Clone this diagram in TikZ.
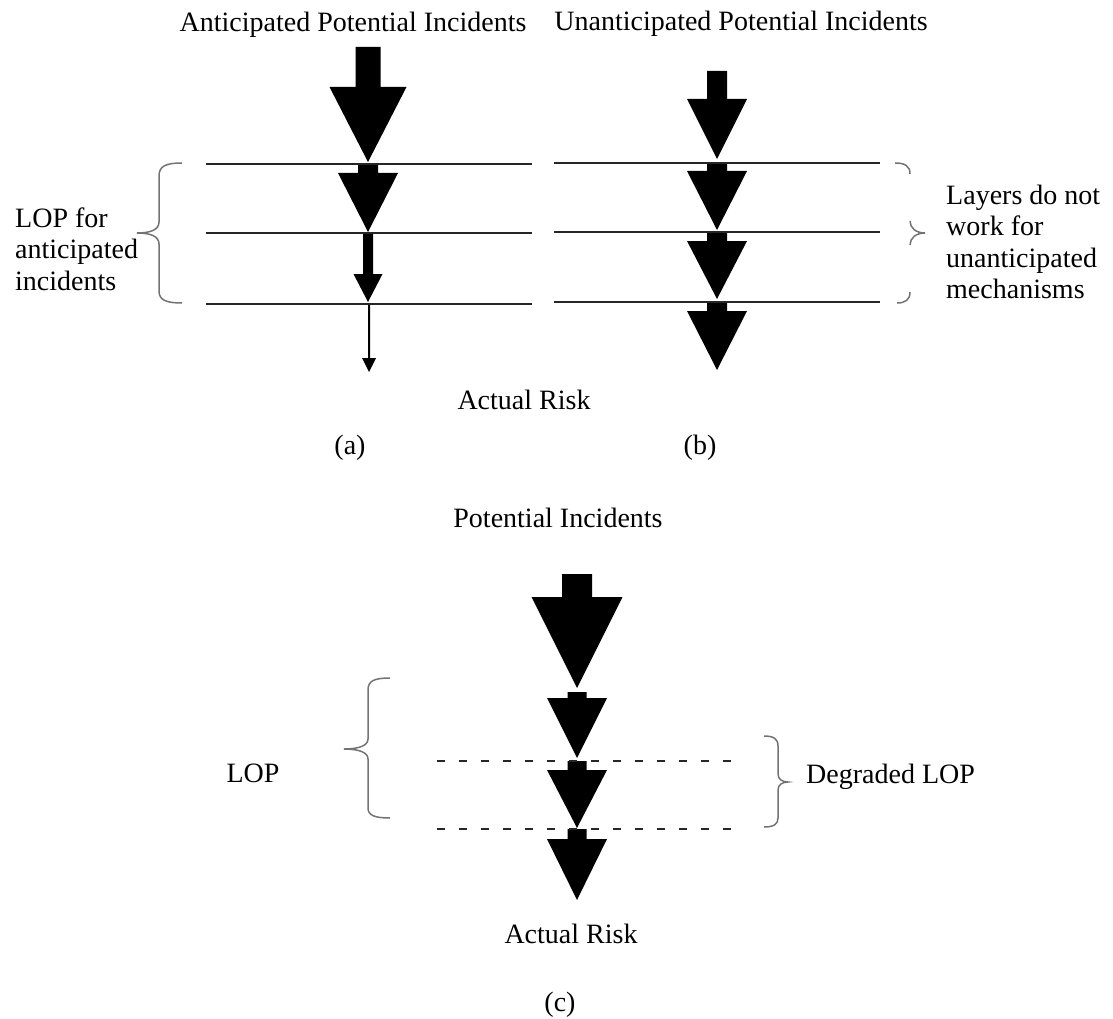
\documentclass[tikz,border=0pt]{standalone}
\usepackage{fontspec}
\setmainfont{Liberation Serif}
\tikzset{
    textnode/.style = {draw=none, fill=none, rectangle, inner sep=0pt, align=center,
      font=\fontsize{28}{31.5}\selectfont},
    sidenode/.style = {textnode, align=left, anchor=west},
    layerline/.style = {draw=black!85, line width=2.3pt},
    dashline/.style = {draw=black!85, line width=2.3pt, dash pattern=on 8pt off 14pt},
    bracket/.style = {draw=black!55, line width=1.5pt}
}
% block arrow: centre x, shaft top, head top, tip, half shaft, half head
\newcommand{\blockarrow}[6]{%
    \fill ({#1-#5},#2) -- ({#1+#5},#2) -- ({#1+#5},#3) -- ({#1+#6},#3) -- (#1,#4)
        -- ({#1-#6},#3) -- ({#1-#5},#3) -- cycle;}

\begin{document}
\begin{tikzpicture}[x=1pt, y=-1pt]
    \useasboundingbox (0,0) rectangle (1113,1019);

    % (a) anticipated
    \node [textnode, name=TitleA] at (353,25) {Anticipated Potential Incidents};
    \blockarrow{368}{47}{87}{162}{12.5}{38.5}
    \blockarrow{368}{164}{173}{232}{10}{30}
    \blockarrow{368}{233}{274}{302}{5}{14.5}
    \blockarrow{369}{304}{358}{372}{1}{7}
    \foreach \y in {164,233,304}
        \draw [layerline] (206,\y) -- (532,\y);
    \draw [bracket] (182,163) .. controls (166,163) and (159,166) .. (159,176) -- (159,222)
        .. controls (159,230) and (150,233) .. (137,233) .. controls (150,233) and (159,236) .. (159,244)
        -- (159,291) .. controls (159,300) and (166,303) .. (182,303);
    \node [sidenode, name=LopA] at (15,249) {LOP for\\anticipated\\incidents};
    \node [textnode, name=RiskA] at (524,400) {Actual Risk};
    \node [textnode, name=CapA] at (350,448) {(a)};

    % (b) unanticipated
    \node [textnode, name=TitleB] at (741,24) {Unanticipated Potential Incidents};
    \blockarrow{717}{71}{99}{159}{10}{30}
    \blockarrow{717}{163}{171}{230}{10}{30}
    \blockarrow{717}{232}{241}{299}{10}{30}
    \blockarrow{717}{302}{311}{370}{10}{30}
    \foreach \y in {163,232,302}
        \draw [layerline] (554,\y) -- (880,\y);
    \draw [bracket] (895,163) .. controls (905,163) and (910,166) .. (910,174);
    \draw [bracket] (910,221) .. controls (910,228) and (916,233) .. (925,233)
        .. controls (916,233) and (910,238) .. (910,245);
    \draw [bracket] (910,292) .. controls (910,300) and (905,303) .. (897,303);
    \node [sidenode, name=LayersB] at (946,242) {Layers do not\\work for\\unanticipated\\mechanisms};
    \node [textnode, name=CapB] at (700,448) {(b)};

    % (c) degraded layers
    \node [textnode, name=TitleC] at (558,518) {Potential Incidents};
    \blockarrow{577}{574}{597}{688}{15}{45.5}
    \blockarrow{577}{692}{698}{758}{9.5}{30}
    \blockarrow{577}{761}{770}{828}{9.5}{30}
    \blockarrow{577}{829}{839}{900}{9.5}{30}
    \foreach \y in {761,829}
        \draw [dashline] (437,\y) -- (742,\y);
    \draw [bracket] (390,678) .. controls (374,678) and (368,681) .. (368,690) -- (368,739)
        .. controls (368,746) and (358,749) .. (344,749) .. controls (358,749) and (368,752) .. (368,759)
        -- (368,808) .. controls (368,815) and (374,818) .. (390,818);
    \draw [bracket] (764,736) .. controls (774,736) and (778,739) .. (778,746) -- (778,774)
        .. controls (778,779) and (782,782) .. (788,782) .. controls (782,782) and (778,785) .. (778,790)
        -- (778,818) .. controls (778,824) and (774,827) .. (764,827);
    \node [textnode, name=LopC] at (253,773) {LOP};
    \node [sidenode, name=DegC] at (806,777) {Degraded LOP};
    \node [textnode, name=RiskC] at (571,934) {Actual Risk};
    \node [textnode, name=CapC] at (560,1005) {(c)};
\end{tikzpicture}
\end{document}
